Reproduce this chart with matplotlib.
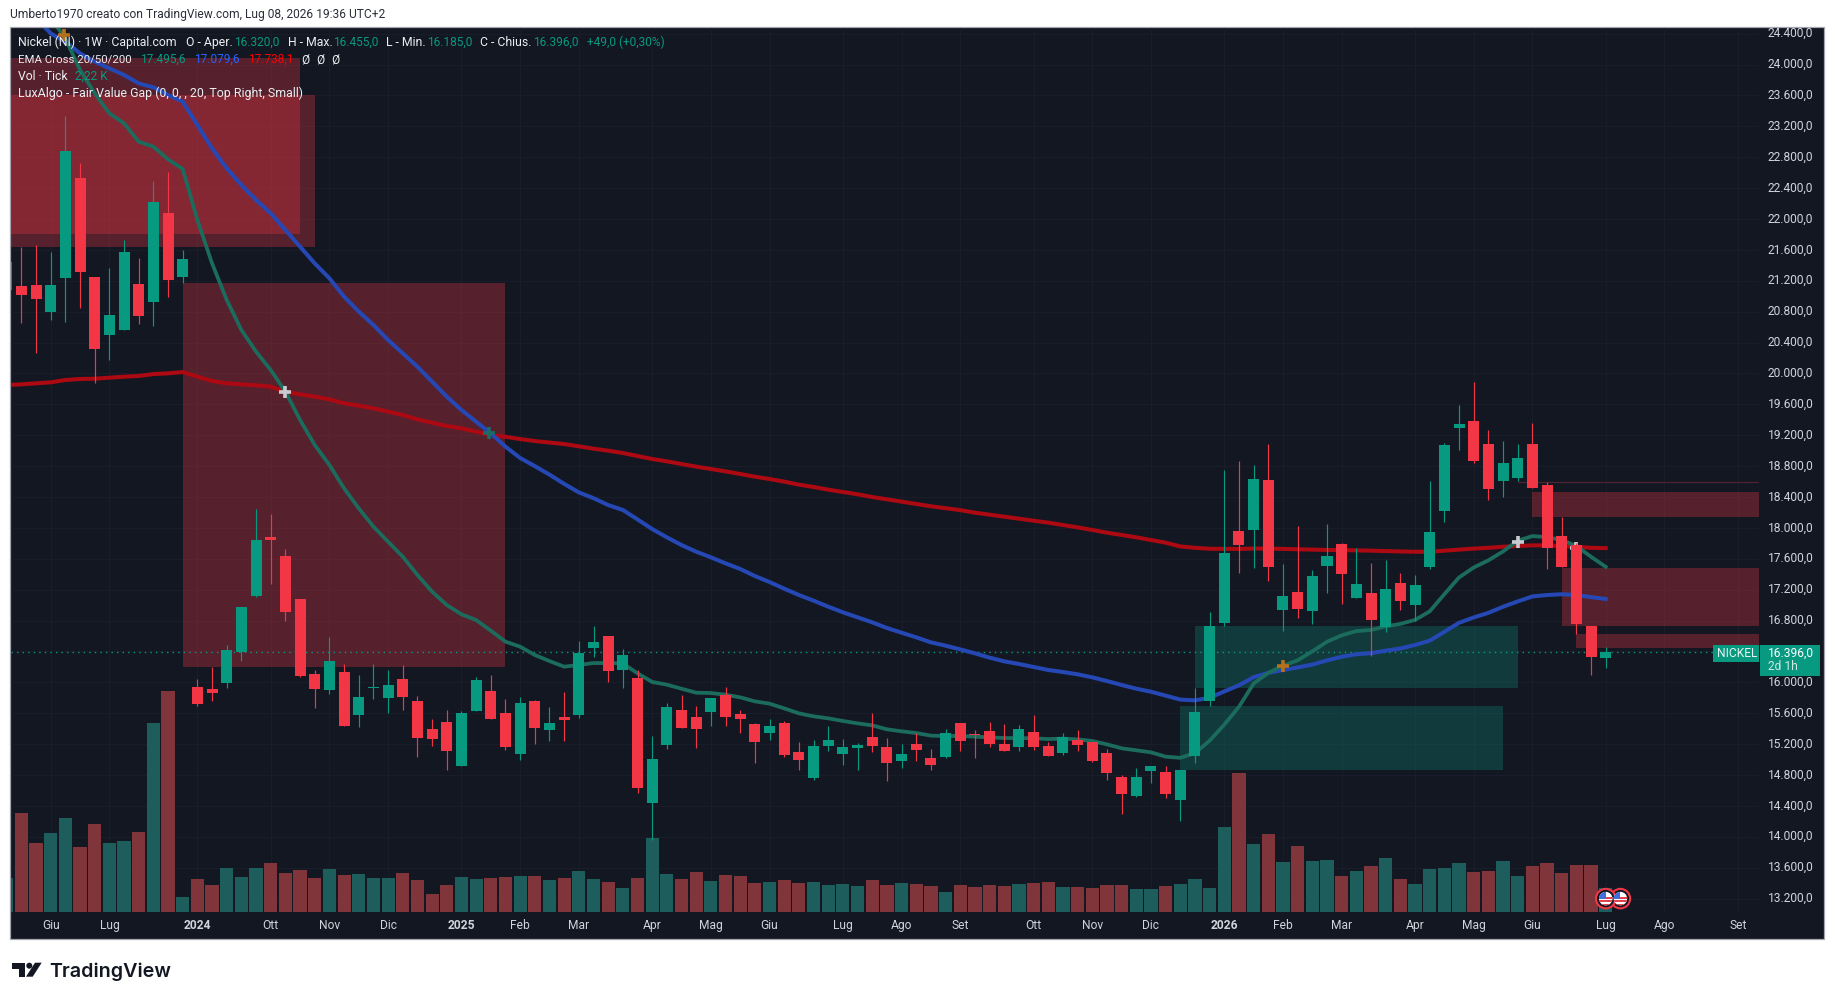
import matplotlib
matplotlib.use("Agg")
import matplotlib.pyplot as plt
from matplotlib.patches import Circle, Ellipse, Polygon, Rectangle
from matplotlib.transforms import Affine2D, IdentityTransform

plt.rcParams["font.family"] = ["Roboto", "DejaVu Sans"]

W, H = 1835, 1000
BG = "#131722"
UP = "#089981"
DOWN = "#f23645"
TEXT = "#d1d4dc"
LEGEND_TEXT = "#eceef2"

# weekly candles, Nickel 1W
opens = [21080, 21132, 21145, 20795, 21235, 22530, 21248, 20497, 20562, 21158,
         20925, 22077, 21248, 15940, 15914, 15992, 16393, 17118, 17882, 17636,
         17079, 16108, 15901, 16134, 15577, 15927, 15797, 16043, 15758, 15396,
         15487, 14917, 15629, 15888, 15603, 15072, 15758, 15383, 15551, 15577,
         16445, 16600, 16160, 16056, 14438, 15189, 15642, 15551, 15616, 15836,
         15590, 15461, 15344, 15474, 15098, 14761, 15176, 15072, 15150, 15292,
         15163, 14982, 15202, 15020, 15033, 15474, 15331, 15370, 15202, 15163,
         15357, 15176, 15085, 15254, 15228, 15085, 14774, 14528, 14852, 14839,
         14477, 15046, 15763, 16771, 17959, 17973, 18620, 16937, 17168, 16923,
         17506, 17793, 17094, 17159, 16711, 17288, 17002, 17492, 18218, 19295,
         19383, 19087, 18606, 18648, 19087, 18556, 17894, 17779, 16724, 16320]
highs = [21500, 21637, 21663, 21572, 23333, 22725, 21248, 21365, 21727, 21494,
         22491, 22608, 21598, 16043, 16199, 16484, 16976, 18244, 18180, 17727,
         17079, 16160, 16587, 16238, 16095, 16238, 16160, 16225, 15823, 15525,
         15642, 15629, 16069, 16095, 15784, 15810, 15771, 15681, 15875, 16535,
         16730, 16600, 16432, 16160, 15305, 15733, 15836, 15694, 15797, 15940,
         15642, 15474, 15525, 15499, 15228, 15254, 15435, 15266, 15215, 15603,
         15279, 15202, 15344, 15137, 15396, 15474, 15383, 15486, 15461, 15448,
         15577, 15228, 15344, 15383, 15228, 15137, 14800, 14891, 14917, 14917,
         14865, 15927, 16909, 18750, 18865, 18815, 19087, 17529, 18019, 17455,
         18052, 17806, 17742, 17547, 17584, 17418, 17390, 18606, 19097, 19591,
         19887, 19268, 19124, 19087, 19360, 18588, 18139, 17806, 16724, 16455]
lows = [21020, 20657, 20269, 20692, 20670, 20847, 19880, 20174, 20562, 20640,
        20614, 20989, 21171, 15694, 15759, 15927, 16276, 17101, 17273, 16794,
        16069, 15668, 15849, 15435, 15422, 15784, 15603, 15642, 15033, 15176,
        14865, 14917, 15629, 15525, 15124, 14994, 15202, 15241, 15241, 15538,
        16328, 16005, 15927, 14567, 13959, 15137, 15409, 15150, 15435, 15435,
        15344, 14956, 15254, 15033, 14865, 14736, 15111, 14930, 14865, 15098,
        14723, 14891, 14982, 14865, 15020, 15111, 15020, 15163, 15111, 15111,
        15124, 15046, 15059, 15111, 14969, 14736, 14295, 14515, 14697, 14502,
        14205, 14956, 15698, 16724, 17418, 17487, 17316, 16664, 16835, 16752,
        17159, 17016, 17094, 16345, 16655, 16933, 16794, 17469, 18075, 19009,
        18842, 18361, 18403, 18606, 18519, 17469, 17492, 16627, 16100, 16185]
closes = [21443, 21015, 20968, 21145, 22880, 21313, 20316, 20756, 21572, 20743,
          22219, 21210, 21481, 15720, 15862, 16419, 16976, 17843, 17843, 16911,
          16082, 15914, 16276, 15435, 15810, 15940, 15966, 15810, 15279, 15266,
          15111, 15603, 16030, 15525, 15163, 15733, 15409, 15474, 15512, 16380,
          16522, 16147, 16354, 14632, 15007, 15681, 15409, 15396, 15797, 15551,
          15525, 15228, 15435, 15059, 14994, 15176, 15254, 15163, 15189, 15176,
          14956, 15072, 15124, 14930, 15344, 15240, 15314, 15202, 15111, 15396,
          15163, 15046, 15292, 15189, 14982, 14826, 14554, 14774, 14917, 14554,
          14865, 15616, 16724, 17677, 17779, 18634, 17492, 17117, 16951, 17372,
          17635, 17404, 17275, 16808, 17205, 17053, 17261, 17945, 19073, 19346,
          18865, 18505, 18842, 18907, 18519, 17742, 17492, 16757, 16327, 16396]
volumes = [3.11, 9.04, 6.30, 7.22, 8.59, 5.94, 8.04, 6.30, 6.49, 7.31,
           17.27, 20.19, 1.37, 3.01, 2.47, 4.02, 3.20, 4.02, 4.48, 3.56,
           3.84, 3.11, 3.93, 3.38, 3.47, 3.11, 3.11, 3.56, 2.92, 1.64,
           2.47, 3.20, 3.01, 3.11, 3.20, 3.29, 3.29, 2.92, 3.11, 3.75,
           3.01, 2.74, 2.19, 3.11, 6.76, 3.47, 3.01, 3.65, 2.83, 3.38,
           3.29, 2.65, 2.74, 2.92, 2.65, 2.74, 2.47, 2.56, 2.38, 2.92,
           2.47, 2.65, 2.56, 2.38, 1.83, 2.47, 2.28, 2.47, 2.38, 2.56,
           2.65, 2.74, 2.28, 2.28, 2.19, 2.47, 2.47, 2.10, 2.10, 2.38,
           2.55, 3.03, 2.22, 7.77, 12.73, 6.23, 7.15, 4.57, 6.04, 4.67,
           4.76, 3.30, 3.75, 4.21, 4.96, 3.03, 2.58, 3.95, 4.05, 4.50,
           3.65, 3.75, 4.67, 3.30, 4.21, 4.50, 3.59, 4.31, 4.31, 2.22]

# EMA lines, first value of each belongs to bar index ema20_start etc.
ema20_start = 3
ema20 = [24600, 24339, 23929, 23627, 23368, 23238, 23001, 22936, 22772, 22647,
         21986, 21425, 20951, 20562, 20282, 20044, 19764, 19397, 19073, 18814,
         18512, 18253, 18016, 17821, 17627, 17390, 17174, 17001, 16881, 16807,
         16669, 16527, 16462, 16354, 16276, 16203, 16225, 16250, 16250, 16246,
         16117, 16005, 15970, 15918, 15866, 15862, 15840, 15806, 15754, 15724,
         15663, 15599, 15560, 15534, 15500, 15469, 15443, 15392, 15366, 15344,
         15310, 15305, 15305, 15297, 15288, 15279, 15279, 15275, 15266, 15271,
         15262, 15241, 15197, 15146, 15120, 15094, 15038, 15023, 15083, 15245,
         15453, 15684, 15985, 16123, 16216, 16285, 16401, 16526, 16609, 16664,
         16678, 16724, 16757, 16808, 16919, 17141, 17358, 17487, 17580, 17695,
         17834, 17894, 17880, 17843, 17765, 17626, 17495.6]
ema50_start = 2
ema50 = [24600, 24403, 24295, 24144, 24037, 23950, 23864, 23756, 23704, 23605,
         23519, 23217, 22914, 22655, 22440, 22245, 22073, 21857, 21641, 21425,
         21231, 20994, 20800, 20627, 20433, 20260, 20087, 19893, 19699, 19526,
         19375, 19224, 19052, 18905, 18800, 18690, 18570, 18460, 18385, 18296,
         18232, 18110, 17985, 17878, 17778, 17692, 17619, 17541, 17468, 17377,
         17299, 17213, 17131, 17058, 16980, 16907, 16842, 16777, 16704, 16643,
         16583, 16518, 16475, 16427, 16376, 16320, 16272, 16238, 16199, 16160,
         16134, 16104, 16065, 16017, 15966, 15918, 15879, 15828, 15777, 15767,
         15800, 15883, 15962, 16068, 16123, 16160, 16193, 16230, 16285, 16331,
         16364, 16378, 16410, 16438, 16484, 16539, 16655, 16771, 16840, 16900,
         16979, 17048, 17113, 17131, 17141, 17131, 17104, 17079.6]
ema200_start = 0
ema200 = [19850, 19859, 19872, 19885, 19915, 19928, 19932, 19945, 19958, 19967,
          19992, 20001, 20018, 19958, 19902, 19872, 19859, 19846, 19829, 19764,
          19729, 19699, 19665, 19613, 19583, 19548, 19505, 19462, 19405, 19362,
          19319, 19289, 19246, 19203, 19180, 19150, 19125, 19105, 19086, 19056,
          19026, 19000, 18970, 18931, 18892, 18862, 18827, 18793, 18763, 18732,
          18698, 18663, 18633, 18599, 18560, 18530, 18495, 18465, 18435, 18400,
          18370, 18340, 18310, 18280, 18255, 18230, 18197, 18171, 18145, 18119,
          18093, 18068, 18037, 18007, 17973, 17938, 17908, 17878, 17843, 17809,
          17760, 17742, 17730, 17728, 17728, 17732, 17732, 17728, 17723, 17719,
          17714, 17714, 17709, 17705, 17700, 17695, 17691, 17691, 17705, 17719,
          17732, 17742, 17756, 17765, 17774, 17774, 17765, 17756, 17742, 17738.1]

# EMA cross markers
cross_i = [3.9, 19, 32.9, 87, 103, 107]
cross_price = [24382, 19764, 19233, 16216, 17820, 17735]
cross_colors = ["#b5701c", "#c9cbd0", "#1d6a66", "#b5701c", "#c9cbd0", "#c9cbd0"]

# fair value gaps: start bar, end bar, top, bottom
gap_start = [-2, -1, 12, 81, 80, 104, 106, 107]
gap_end = [20, 21, 34, 103, 102, 126, 128, 129]
gap_top = [24088, 23607, 21171, 16725, 15693, 18465, 17480, 16626]
gap_bottom = [21805, 21641, 16199, 15933, 14870, 18141, 16730, 16445]
gap_colors = [DOWN, DOWN, DOWN, UP, UP, DOWN, DOWN, DOWN]

price_ticks = list(range(13200, 24401, 400))
hidden_price_ticks = [16400]
month_pos = [3, 7, 13, 18, 22, 26, 31, 35, 39, 44, 48, 52, 57, 61, 65, 70, 74,
             78, 83, 87, 91, 96, 100, 104, 109, 113, 118]
month_labels = ["Giu", "Lug", "2024", "Ott", "Nov", "Dic", "2025", "Feb", "Mar",
                "Apr", "Mag", "Giu", "Lug", "Ago", "Set", "Ott", "Nov", "Dic",
                "2026", "Feb", "Mar", "Apr", "Mag", "Giu", "Lug", "Ago", "Set"]
event_bars = [110, 109]
event_price = 13200

# chart geometry in image pixels
BAR_PX = 14.67
BAR0_PX = 6.7
PRICE_PX = 0.07723
PLOT_L, PLOT_R, PLOT_T, PLOT_B = 10.7, 1759, 27.5, 912


def px_to_price(y):
    return 13200 + (898.6 - y) / PRICE_PX


def px_to_bar(x):
    return (x - BAR0_PX) / BAR_PX


def label(x, y, text, color=TEXT, size=8.65, **kw):
    return fig.text(x / W, 1 - y / H, text, color=color, fontsize=size,
                    va="center", ha="left", zorder=6, **kw)


def px_rect(x0, y0, x1, y1, color, z=4, **kw):
    fig.add_artist(Rectangle((x0, H - y1), x1 - x0, y1 - y0, facecolor=color,
                             transform=IdentityTransform(), zorder=z, **kw))


def draw_flag(ax, bar):
    rx, ry = 1 / BAR_PX, 1 / PRICE_PX
    ax.add_patch(Ellipse((bar, event_price), 19.5 * rx, 19.5 * ry, facecolor=BG,
                         edgecolor=DOWN, lw=1.5, zorder=8))
    disc = Ellipse((bar, event_price), 13.5 * rx, 13.5 * ry, facecolor="white",
                   edgecolor="none", zorder=9)
    ax.add_patch(disc)
    for off in (-6, -2.5, 1):
        stripe = Rectangle((bar - 7 * rx, event_price + (off - 1) * ry), 14 * rx,
                           2 * ry, facecolor="#e0434f", zorder=10)
        ax.add_patch(stripe)
        stripe.set_clip_path(disc)
    canton = Rectangle((bar - 7 * rx, event_price), 7 * rx, 7 * ry,
                       facecolor="#3f6fd8", zorder=11)
    ax.add_patch(canton)
    canton.set_clip_path(disc)


fig = plt.figure(figsize=(W / 100, H / 100), dpi=100, facecolor="white")

# dark panel behind both axes
fig.add_artist(Rectangle((10, H - 939), 1814, 912, facecolor=BG, edgecolor="#a3a6af",
                         lw=0.9, transform=IdentityTransform(), zorder=-1))

rect = [PLOT_L / W, 1 - PLOT_B / H, (PLOT_R - PLOT_L) / W, (PLOT_B - PLOT_T) / H]
ax_grid = fig.add_axes(rect, zorder=0)
ax_vol = fig.add_axes(rect, zorder=1)
ax = fig.add_axes(rect, zorder=2)

bars = list(range(len(closes)))
xlim = (px_to_bar(PLOT_L), px_to_bar(PLOT_R))
ylim = (px_to_price(PLOT_B), px_to_price(PLOT_T))
shown_ticks = [t for t in price_ticks if t not in hidden_price_ticks]

# faint grid goes underneath the volume bars
ax_grid.patch.set_alpha(0)
ax_grid.set_xlim(xlim)
ax_grid.set_ylim(ylim)
ax_grid.set_xticks(month_pos)
ax_grid.set_yticks(price_ticks)
ax_grid.tick_params(length=0, labelbottom=False, labelleft=False)
ax_grid.grid(True, color="#191d29", lw=0.8)
for s in ax_grid.spines.values():
    s.set_visible(False)

# volume pane shares the x scale
vol_colors = ["#1d5d5c" if c >= o else "#7f3539" for o, c in zip(opens, closes)]
ax_vol.bar(bars, volumes, width=0.9, color=vol_colors)
ax_vol.set_xlim(xlim)
ax_vol.set_ylim(0, 80.9)
ax_vol.axis("off")

ax.patch.set_alpha(0)
for s in ax.spines.values():
    s.set_visible(False)
ax.set_xlim(xlim)
ax.set_ylim(ylim)

ax.set_yticks(shown_ticks)
ax.set_yticklabels([f"{t:,.1f}".replace(",", "X").replace(".", ",").replace("X", ".")
                    for t in shown_ticks])
ax.yaxis.tick_right()
ax.tick_params(axis="y", length=0, pad=6.3, labelsize=8.65, labelcolor=TEXT)
for tick_label in ax.get_yticklabels():
    tick_label.set_transform(tick_label.get_transform() + Affine2D().translate(0, 1.6))
ax.set_xticks(month_pos)
ax.set_xticklabels(month_labels)
ax.tick_params(axis="x", length=0, pad=5.2, labelsize=8.65, labelcolor=TEXT)
for tick_label in ax.get_xticklabels():
    if tick_label.get_text().isdigit():
        tick_label.set_fontweight("bold")

for x0, x1, top, bottom, color in zip(gap_start, gap_end, gap_top, gap_bottom, gap_colors):
    ax.add_patch(Rectangle((x0, bottom), x1 - x0, top - bottom, facecolor=color,
                           alpha=0.3 if color == DOWN else 0.27, edgecolor="none", zorder=1))
# thin leftover gap above the June boxes
ax.plot([103, 126], [18597, 18597], color="#4c2330", lw=0.9, zorder=1)

ax.axhline(closes[-1], color=UP, lw=1.0, ls=(0, (1, 3)), zorder=2)

ax.plot(range(ema200_start, ema200_start + len(ema200)), ema200, color="#ad0912", lw=2.9, zorder=3)
ax.plot(range(ema50_start, ema50_start + len(ema50)), ema50, color="#2548b5", lw=2.9, zorder=3)
ax.plot(range(ema20_start, ema20_start + len(ema20)), ema20, color="#1c6c5e", lw=2.7, zorder=3)

for cx, cy, color in zip(cross_i, cross_price, cross_colors):
    ax.plot([cx], [cy], marker="+", ms=9, mew=2.6, color=color, zorder=4)

for i, (o, h, l, c) in enumerate(zip(opens, highs, lows, closes)):
    color = UP if c >= o else DOWN
    ax.vlines(i, l, h, color=color, lw=0.85, zorder=5)
    ax.bar(i, abs(c - o), bottom=min(o, c), width=0.75, color=color, zorder=5)

for bar in event_bars:
    draw_flag(ax, bar)

# last price tags
px_rect(1713, 645, 1759, 662, UP)
px_rect(1760, 645, 1820, 676, UP)
label(1717, 653.5, "NICKEL", color="#e6f4f1")
label(1768, 653, "16.396,0", color="white")
label(1768, 667, "2d 1h", color="#cfe9e4")

# legend rows, words a touch wider than the digits in the reference
LEG = 8.85
NUM = 8.6
label(17.8, 42.3, "Nickel (NI) · 1W · Capital.com", color=LEGEND_TEXT, size=LEG)
for x, text, value_x, value in [(186, "O - Aper.", 234.5, "16.320,0"),
                                (287.5, "H - Max.", 333, "16.455,0"),
                                (386, "L - Min.", 427.4, "16.185,0"),
                                (480.4, "C - Chius.", 533, "16.396,0")]:
    label(x, 42.3, text, color=LEGEND_TEXT, size=LEG)
    label(value_x, 42.3, value, color=UP, size=NUM)
label(586.8, 42.3, "+49,0 (+0,30%)", color=UP, size=NUM)
label(17.8, 59.6, "EMA Cross 20/50/200", color=LEGEND_TEXT, size=8.2)
label(139.6, 59.6, "17.495,6", color=UP, size=NUM)
label(193.8, 59.6, "17.079,6", color="#2962ff", size=NUM)
label(248, 59.6, "17.738,1", color="#ff0000", size=NUM)
for x in (301, 316, 331):
    label(x, 59.6, "Ø", color=LEGEND_TEXT, size=NUM)
label(17.8, 76.5, "Vol · Tick", color=LEGEND_TEXT, size=LEG)
label(75, 76.5, "2,22 K", color=UP, size=NUM)
label(17.8, 93.4, "LuxAlgo - Fair Value Gap (0, 0, , 20, Top Right, Small)",
      color=LEGEND_TEXT, size=8.9)

label(10, 14.7, "Umberto1970 creato con TradingView.com, Lug 08, 2026 19:36 UTC+2",
      color="#2a2e39")

# TradingView logo
LOGO = "#131722"
px_rect(12.3, 962.7, 25, 969, LOGO)
px_rect(19, 962.7, 25, 976.7, LOGO)
fig.add_artist(Circle((29.3, H - 965.7), 3, facecolor=LOGO,
                      transform=IdentityTransform(), zorder=4))
fig.add_artist(Polygon([(35, H - 962.7), (41.7, H - 962.7), (32.7, H - 976.7), (26, H - 976.7)],
                       facecolor=LOGO, transform=IdentityTransform(), zorder=4))
fig.text(49.5 / W, 1 - 976.7 / H, "TradingView", color=LOGO, fontsize=14.2,
         family=["Inter", "DejaVu Sans"], fontweight="semibold", va="baseline", ha="left")

fig.savefig("out.png", dpi=100, facecolor="white")
